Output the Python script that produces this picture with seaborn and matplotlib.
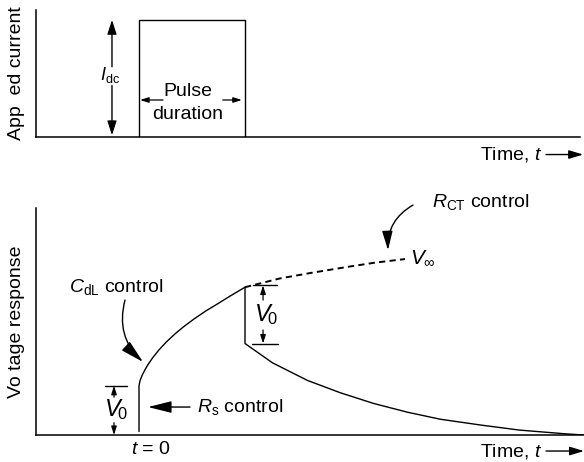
import matplotlib
matplotlib.use("Agg")
import matplotlib.pyplot as plt
import seaborn as sns

# Time is in units of the pulse duration (pulse switched on at t = 0).
# Applied current, normalised to I_dc = 1
pulse_t = [0.0, 0.0, 1.0, 1.0]
pulse_i = [0.0, 1.0, 1.0, 0.0]

# Voltage response while the current flows (normalised to V_inf = 1)
rise_t = [0.0, 0.0, 0.01, 0.03, 0.06, 0.09, 0.13, 0.19, 0.26, 0.34,
          0.42, 0.52, 0.63, 0.74, 0.86, 1.0]
rise_v = [0.02, 0.28, 0.31, 0.34, 0.375, 0.405, 0.44, 0.485, 0.53, 0.575,
          0.615, 0.66, 0.705, 0.745, 0.79, 0.84]

# Extrapolated approach to the steady-state value V_inf
plateau_t = [1.0, 1.33, 1.61, 1.96, 2.23, 2.51]
plateau_v = [0.84, 0.89, 0.92, 0.955, 0.98, 1.0]

# Relaxation after the current is switched off
decay_t = [1.0, 1.0, 1.26, 1.59, 1.90, 2.21, 2.53, 2.84, 3.22, 3.59, 4.04, 4.20]
decay_v = [0.84, 0.52, 0.41, 0.31, 0.24, 0.18, 0.13, 0.09, 0.057, 0.028, 0.006, 0.0]

sns.set_theme(style="white")
plt.rcParams.update({
    "font.family": ["Liberation Sans", "DejaVu Sans"],
    "mathtext.fontset": "custom",
    "mathtext.rm": "Liberation Sans",
    "mathtext.it": "Liberation Sans:italic",
    "mathtext.bf": "Liberation Sans:bold",
    "mathtext.sf": "Liberation Sans",
    "text.color": "black",
    "axes.labelcolor": "black",
})

FS = 14
INK = "black"

fig = plt.figure(figsize=(5.84, 4.62), dpi=100)
ax_i = fig.add_axes([0.0616, 0.7035, 0.9315, 0.2749])
ax_v = fig.add_axes([0.0616, 0.0584, 0.9384, 0.4913])

for ax in (ax_i, ax_v):
    for side in ("top", "right"):
        ax.spines[side].set_visible(False)
    for side in ("left", "bottom"):
        ax.spines[side].set_color(INK)
        ax.spines[side].set_linewidth(1.1)
    ax.set_xticks([])
    ax.set_yticks([])

ax_i.set_xlim(-0.972, 4.16)
ax_i.set_ylim(0, 1.085)
ax_v.set_xlim(-0.972, 4.198)
ax_v.set_ylim(0, 1.29)


def arrow(ax, start, end, scale, length, width, lw=1.0, rad=0.0):
    ax.annotate("", xy=end, xytext=start,
                arrowprops=dict(arrowstyle=f"-|>,head_length={length},head_width={width}",
                                mutation_scale=scale, color=INK, lw=lw,
                                shrinkA=0, shrinkB=0,
                                connectionstyle=f"arc3,rad={rad}"),
                annotation_clip=False)


def side_label(ax, text, x_axes):
    ax.set_ylabel("")
    ax.text(x_axes, 0.5, text, transform=ax.transAxes, rotation=90,
            fontsize=FS, ha="right", va="center")


def time_label(ax, y, x_text, x_arrow0, x_arrow1):
    ax.text(x_text, y, "Time, $t$", fontsize=FS, ha="right", va="center")
    arrow(ax, (x_arrow0, y), (x_arrow1, y), 20, 0.43, 0.13, lw=1.0)


# ---- applied current --------------------------------------------------
sns.lineplot(x=pulse_t, y=pulse_i, ax=ax_i, color=INK, lw=1.0,
             estimator=None, sort=False)
ax_i.set_xlabel("")
side_label(ax_i, "App  ed current", -0.0202)

# I_dc amplitude arrow
x_idc = -0.255
arrow(ax_i, (x_idc, 0.60), (x_idc, pulse_i[1]), 20, 0.43, 0.14)
arrow(ax_i, (x_idc, 0.44), (x_idc, 0.015), 20, 0.43, 0.14)
ax_i.text(-0.274, 0.53, r"$I_{\rm dc}$", fontsize=13, ha="center", va="center")

# pulse duration arrows and text
arrow(ax_i, (0.226, 0.316), (pulse_t[1] + 0.01, 0.316), 10, 0.5, 0.16, lw=0.9)
arrow(ax_i, (0.79, 0.316), (pulse_t[2] - 0.03, 0.316), 10, 0.5, 0.16, lw=0.9)
ax_i.text(0.462, 0.385, "Pulse", fontsize=FS, ha="center", va="center")
ax_i.text(0.462, 0.188, "duration", fontsize=FS, ha="center", va="center")

time_label(ax_i, -0.150, 3.80, 3.84, 4.19)

# ---- voltage response -------------------------------------------------
sns.lineplot(x=rise_t, y=rise_v, ax=ax_v, color=INK, lw=1.0,
             estimator=None, sort=False)
sns.lineplot(x=plateau_t, y=plateau_v, ax=ax_v, color=INK, lw=1.4,
             estimator=None, sort=False, linestyle=(0, (3.2, 2.2)))
sns.lineplot(x=decay_t, y=decay_v, ax=ax_v, color=INK, lw=1.0,
             estimator=None, sort=False)
ax_v.set_xlabel("")
side_label(ax_v, "Vo tage response", -0.0201)

# ohmic jump V0 at switch-on
v_on = rise_v[1]
ax_v.plot([-0.32, -0.11], [v_on, v_on], color=INK, lw=1.0)
arrow(ax_v, (-0.236, 0.215), (-0.236, v_on), 10, 0.5, 0.16, lw=0.9)
arrow(ax_v, (-0.236, 0.07), (-0.236, 0.0), 10, 0.5, 0.16, lw=0.9)
ax_v.text(-0.215, 0.145, r"$V_{\!0}$", fontsize=17, ha="center", va="center")

# ohmic drop V0 at switch-off
v_top, v_bot = rise_v[-1], decay_v[1]
ax_v.plot([1.075, 1.30], [v_top + 0.01, v_top + 0.01], color=INK, lw=1.0)
ax_v.plot([1.066, 1.31], [v_bot, v_bot], color=INK, lw=1.0)
arrow(ax_v, (1.17, 0.767), (1.17, v_top + 0.01), 10, 0.5, 0.16, lw=0.9)
arrow(ax_v, (1.17, 0.597), (1.17, v_bot), 10, 0.5, 0.16, lw=0.9)
ax_v.text(1.195, 0.684, r"$V_{\!0}$", fontsize=17, ha="center", va="center")

# controlling elements
arrow(ax_v, (0.481, 0.159), (0.085, 0.159), 20, 0.72, 0.18, lw=1.0)
ax_v.text(0.547, 0.159, r"$R_{\rm s}$ control", fontsize=FS, ha="left", va="center")

ax_v.text(-0.66, 0.84, r"$C_{\rm dL}$ control", fontsize=FS, ha="left", va="center")
arrow(ax_v, (-0.132, 0.767), (0.038, 0.415), 20, 0.72, 0.18, lw=1.0, rad=0.3)

ax_v.text(2.764, 1.324, r"$R_{\rm CT}$ control", fontsize=FS, ha="left", va="center")
arrow(ax_v, (2.585, 1.307), (2.349, 1.051), 20, 0.58, 0.16, lw=1.0, rad=0.3)
ax_v.text(2.557, 1.006, r"$V_{\infty}$", fontsize=15, ha="left", va="center")

ax_v.text(0.113, -0.085, "$t$ = 0", fontsize=FS, ha="center", va="center")
time_label(ax_v, -0.091, 3.80, 3.84, 4.198)

fig.savefig("out.png", dpi=100)
